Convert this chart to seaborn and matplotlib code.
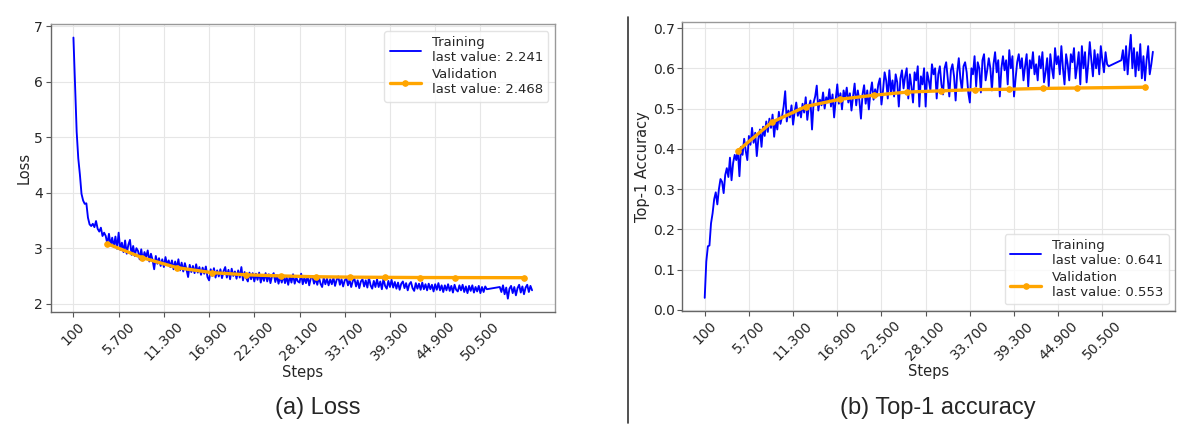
import matplotlib
matplotlib.use("Agg")
import matplotlib.pyplot as plt
from matplotlib.lines import Line2D
import seaborn as sns
import pandas as pd

# ---------------- data ----------------
train_steps = list(range(100, 51301, 200)) + list(range(52900, 56901, 200))

train_loss = [
    6.80, 5.95, 5.10, 4.62, 4.33, 3.98, 3.86, 3.80, 3.81, 3.55,
    3.43, 3.40, 3.44, 3.38, 3.49, 3.35, 3.30, 3.37, 3.22, 3.28,
    3.22, 3.08, 3.26, 3.05, 3.19, 3.02, 3.21, 2.99, 3.28, 2.97,
    3.10, 2.93, 3.14, 2.90, 3.06, 3.15, 2.88, 3.04, 2.86, 3.00,
    2.95, 2.80, 2.98, 2.78, 2.93, 2.84, 2.96, 2.76, 2.90, 2.79,
    2.62, 2.86, 2.72, 2.82, 2.68, 2.80, 2.66, 2.84, 2.70, 2.78,
    2.66, 2.78, 2.62, 2.76, 2.64, 2.80, 2.60, 2.74, 2.58, 2.73,
    2.62, 2.48, 2.70, 2.57, 2.68, 2.55, 2.71, 2.56, 2.66, 2.52,
    2.65, 2.54, 2.67, 2.48, 2.42, 2.62, 2.50, 2.64, 2.47, 2.60,
    2.49, 2.62, 2.46, 2.59, 2.66, 2.47, 2.61, 2.44, 2.63, 2.50,
    2.58, 2.45, 2.60, 2.47, 2.66, 2.42, 2.57, 2.46, 2.40, 2.56,
    2.44, 2.55, 2.40, 2.54, 2.43, 2.56, 2.38, 2.52, 2.41, 2.55,
    2.40, 2.53, 2.37, 2.50, 2.55, 2.39, 2.51, 2.36, 2.49, 2.38,
    2.51, 2.37, 2.48, 2.34, 2.50, 2.38, 2.53, 2.36, 2.47, 2.40,
    2.38, 2.54, 2.35, 2.47, 2.37, 2.50, 2.33, 2.46, 2.49, 2.36,
    2.45, 2.34, 2.48, 2.36, 2.30, 2.47, 2.35, 2.45, 2.33, 2.44,
    2.35, 2.47, 2.32, 2.43, 2.49, 2.34, 2.44, 2.31, 2.42, 2.46,
    2.33, 2.43, 2.30, 2.41, 2.45, 2.31, 2.42, 2.28, 2.40, 2.44,
    2.31, 2.42, 2.29, 2.47, 2.33, 2.27, 2.41, 2.30, 2.44, 2.30,
    2.40, 2.26, 2.45, 2.32, 2.27, 2.41, 2.30, 2.43, 2.29, 2.39,
    2.27, 2.38, 2.25, 2.36, 2.40, 2.28, 2.37, 2.24, 2.35, 2.39,
    2.28, 2.23, 2.37, 2.27, 2.36, 2.25, 2.38, 2.26, 2.35, 2.24,
    2.36, 2.26, 2.34, 2.22, 2.35, 2.25, 2.37, 2.24, 2.33, 2.21,
    2.33, 2.24, 2.35, 2.23, 2.32, 2.20, 2.34, 2.25, 2.22, 2.33,
    2.24, 2.34, 2.21, 2.31, 2.19, 2.32, 2.23, 2.33, 2.20, 2.30,
    2.22, 2.32, 2.19, 2.30, 2.21, 2.31, 2.26,
    2.30, 2.21, 2.33, 2.17, 2.29, 2.09, 2.27, 2.32, 2.19, 2.30,
    2.15, 2.28, 2.34, 2.20, 2.31, 2.17, 2.29, 2.34, 2.21, 2.32,
    2.241,
]

train_acc = [
    0.030, 0.120, 0.158, 0.160, 0.215, 0.240, 0.275, 0.292, 0.262, 0.300,
    0.325, 0.318, 0.290, 0.335, 0.352, 0.330, 0.378, 0.322, 0.365, 0.385,
    0.372, 0.398, 0.332, 0.405, 0.385, 0.425, 0.395, 0.372, 0.432, 0.410,
    0.452, 0.415, 0.440, 0.382, 0.425, 0.448, 0.405, 0.455, 0.432, 0.468,
    0.442, 0.475, 0.452, 0.485, 0.430, 0.470, 0.448, 0.492, 0.462, 0.480,
    0.505, 0.543, 0.468, 0.495, 0.478, 0.508, 0.460, 0.492, 0.515, 0.482,
    0.500, 0.478, 0.512, 0.490, 0.528, 0.472, 0.505, 0.520, 0.448, 0.515,
    0.530, 0.557, 0.495, 0.522, 0.508, 0.540, 0.500, 0.528, 0.515, 0.548,
    0.505, 0.535, 0.478, 0.522, 0.560, 0.512, 0.538, 0.498, 0.545, 0.525,
    0.552, 0.515, 0.538, 0.495, 0.530, 0.562, 0.508, 0.545, 0.520, 0.475,
    0.535, 0.558, 0.512, 0.545, 0.498, 0.540, 0.565, 0.522, 0.548, 0.530,
    0.560, 0.575, 0.510, 0.545, 0.590, 0.570, 0.525, 0.595, 0.540, 0.570,
    0.530, 0.585, 0.565, 0.505, 0.575, 0.595, 0.550, 0.580, 0.600, 0.525,
    0.585, 0.555, 0.515, 0.590, 0.570, 0.605, 0.505, 0.580, 0.560, 0.600,
    0.505, 0.590, 0.570, 0.545, 0.610, 0.585, 0.600, 0.525, 0.585, 0.605,
    0.560, 0.535, 0.600, 0.615, 0.575, 0.530, 0.595, 0.610, 0.580, 0.520,
    0.590, 0.625, 0.575, 0.545, 0.605, 0.615, 0.590, 0.540, 0.515, 0.600,
    0.585, 0.630, 0.555, 0.615, 0.600, 0.540, 0.620, 0.635, 0.570, 0.595,
    0.625, 0.600, 0.545, 0.610, 0.640, 0.590, 0.620, 0.530, 0.600, 0.630,
    0.595, 0.620, 0.560, 0.645, 0.600, 0.630, 0.530, 0.575, 0.615, 0.635,
    0.600, 0.625, 0.570, 0.605, 0.635, 0.555, 0.620, 0.600, 0.640, 0.585,
    0.610, 0.570, 0.630, 0.600, 0.640, 0.565, 0.590, 0.625, 0.555, 0.635,
    0.600, 0.575, 0.650, 0.610, 0.630, 0.585, 0.655, 0.600, 0.560, 0.635,
    0.610, 0.570, 0.635, 0.615, 0.650, 0.575, 0.605, 0.640, 0.560, 0.655,
    0.600, 0.640, 0.565, 0.610, 0.665, 0.620, 0.580, 0.645, 0.600, 0.635,
    0.585, 0.655, 0.620, 0.590, 0.640, 0.610, 0.605,
    0.620, 0.645, 0.595, 0.655, 0.585, 0.640, 0.683, 0.600, 0.650, 0.580,
    0.640, 0.595, 0.660, 0.575, 0.630, 0.570, 0.620, 0.655, 0.585, 0.610,
    0.641,
]

val_steps = [4300, 8600, 12900, 17200, 21500, 25800, 30100, 34400,
             38700, 43000, 47300, 55900]
val_loss = [3.08, 2.83, 2.65, 2.56, 2.52, 2.50, 2.485, 2.478,
            2.474, 2.471, 2.470, 2.468]
val_acc = [0.395, 0.466, 0.505, 0.523, 0.533, 0.541, 0.544, 0.547,
           0.548, 0.550, 0.551, 0.553]

xtick_values = [100, 5700, 11300, 16900, 22500, 28100, 33700, 39300, 44900, 50500]
xtick_labels = ["100", "5.700", "11.300", "16.900", "22.500", "28.100",
                "33.700", "39.300", "44.900", "50.500"]

loss_yticks = [2, 3, 4, 5, 6, 7]
acc_yticks = [0.0, 0.1, 0.2, 0.3, 0.4, 0.5, 0.6, 0.7]

panels = [
    ("Loss", train_loss, val_loss, loss_yticks, "upper right", "(a) Loss"),
    ("Top-1 Accuracy", train_acc, val_acc, acc_yticks, "lower right", "(b) Top-1 accuracy"),
]

# ---------------- drawing ----------------
sns.set_style("ticks")
plt.rcParams["font.family"] = ["DejaVu Sans"]

W, H = 1197, 438
fig = plt.figure(figsize=(W / 100, H / 100), dpi=100)

positions = [
    [50.5 / W, 1 - 311.7 / H, (555 - 50.5) / W, (311.7 - 24.5) / H],
    [682.3 / W, 1 - 311.0 / H, (1175.3 - 682.3) / W, (311.0 - 21.7) / H],
]
caption_x = [318 / W, 937.5 / W]

BLUE = "#0000ff"
ORANGE = "#ffa500"

for i, (ylabel, tr, va, yticks, loc, caption) in enumerate(panels):
    ax = fig.add_axes(positions[i])
    df_tr = pd.DataFrame({"step": train_steps, "value": tr})
    df_va = pd.DataFrame({"step": val_steps, "value": va})
    sns.lineplot(data=df_tr, x="step", y="value", ax=ax, color=BLUE, lw=1.35,
                 label=f"Training\nlast value: {tr[-1]:.3f}")
    sns.lineplot(data=df_va, x="step", y="value", ax=ax, color=ORANGE, lw=2.4,
                 marker="o", markersize=4, markeredgecolor=ORANGE,
                 label=f"Validation\nlast value: {va[-1]:.3f}")
    ax.set_xticks(xtick_values)
    ax.set_xticklabels(xtick_labels, rotation=45, ha="center", fontsize=10)
    ax.set_yticks(yticks)
    ax.set_yticklabels([f"{t:g}" if i == 0 else f"{t:.1f}" for t in yticks], fontsize=10)
    ax.set_xlabel("Steps", fontsize=10.5, labelpad=1)
    ax.set_ylabel(ylabel, fontsize=10.5, labelpad=2)
    ax.grid(True, color="#e6e6e6", lw=0.8)
    ax.set_axisbelow(True)
    for s in ax.spines.values():
        s.set_color("#999999")
        s.set_linewidth(1.0)
    ax.spines["left"].set_color("#666666")
    ax.spines["bottom"].set_color("#666666")
    ax.tick_params(length=3.5, width=0.8, color="#555555", pad=2)
    leg = ax.legend(loc=loc, fontsize=9.5, handlelength=2.4, labelspacing=0.3,
                    borderpad=0.4, frameon=True)
    leg.get_frame().set_edgecolor("#dddddd")
    fig.text(caption_x[i], 1 - 408 / H, caption, ha="center", va="center",
             fontsize=17, family=["Liberation Sans", "DejaVu Sans"])

fig.add_artist(Line2D([627.7 / W, 627.7 / W], [1 - 423 / H, 1 - 17 / H],
                      color="#333333", lw=1.2))

fig.savefig("out.png", dpi=100)
